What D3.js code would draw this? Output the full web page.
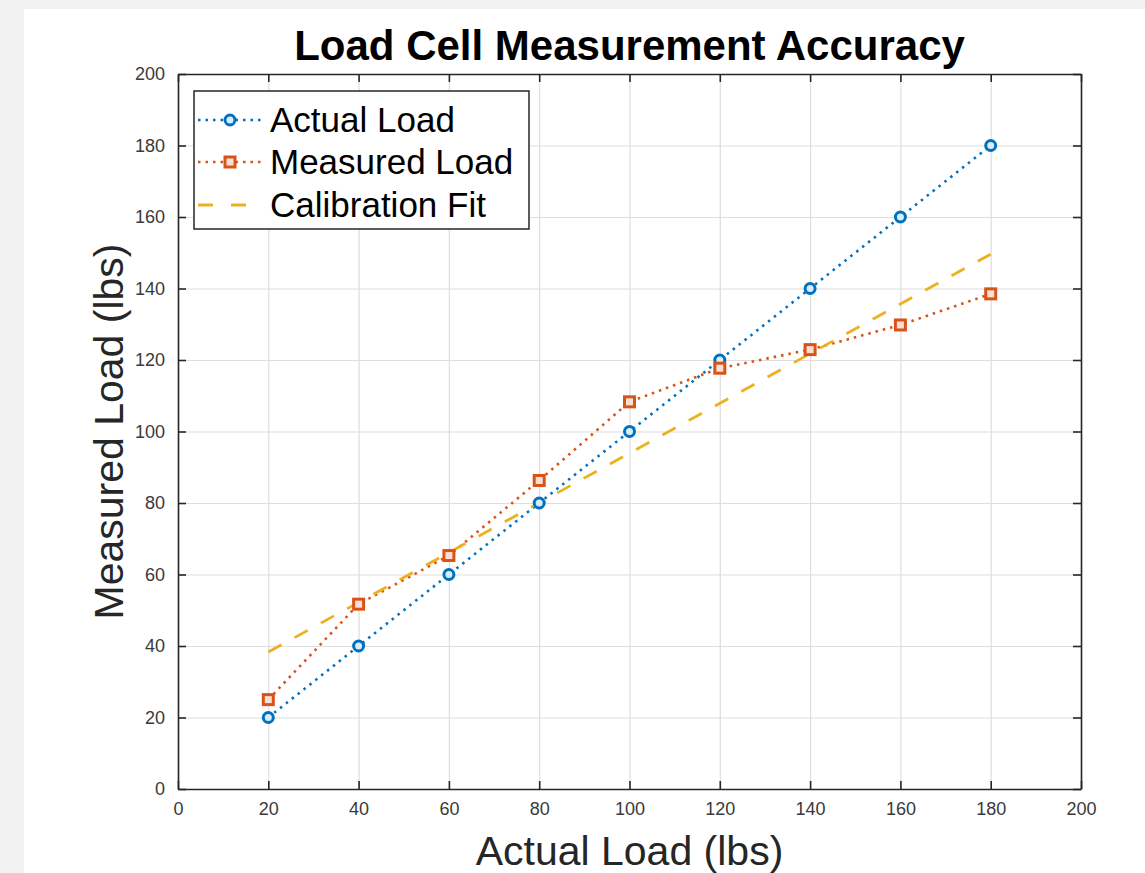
<!DOCTYPE html>
<html>
<head>
<meta charset="utf-8">
<script src="https://cdn.jsdelivr.net/npm/d3@7"></script>
<style>
  html, body { margin: 0; padding: 0; background: #f2f2f2; }
  svg { display: block; }
  text { font-family: "Liberation Sans", Arial, Helvetica, sans-serif; }
</style>
</head>
<body>
<div id="chart"></div>
<script>
// data
var loads = [20, 40, 60, 80, 100, 120, 140, 160, 180];
var actualLoad = [20, 40, 60, 80, 100, 120, 140, 160, 180];
var measuredLoad = [25, 51.7, 65.3, 86.3, 108.3, 117.7, 122.9, 129.8, 138.5];
var fitLoads = [20, 180];
var fitValues = [38.3, 149.6];
var xTicks = [0, 20, 40, 60, 80, 100, 120, 140, 160, 180, 200];
var yTicks = [0, 20, 40, 60, 80, 100, 120, 140, 160, 180, 200];
var seriesNames = ['Actual Load', 'Measured Load', 'Calibration Fit'];

var width = 1145, height = 873;
var margin = {left: 178, top: 74, right: 1081, bottom: 789};

var blue = '#0072BD', orange = '#D95319', yellow = '#EDB120';

var svg = d3.select('#chart').append('svg')
  .attr('width', width).attr('height', height);

// white figure panel
svg.append('rect')
  .attr('x', 24).attr('y', 9)
  .attr('width', width - 24).attr('height', height - 9)
  .attr('fill', '#ffffff');

var x = d3.scaleLinear().domain([0, 200]).range([margin.left, margin.right]);
var y = d3.scaleLinear().domain([0, 200]).range([margin.bottom, margin.top]);
var plotW = margin.right - margin.left, plotH = margin.bottom - margin.top;

// grid
svg.append('g')
  .attr('transform', 'translate(0,' + margin.bottom + ')')
  .call(d3.axisBottom(x).tickValues(xTicks).tickSize(-plotH).tickFormat(''))
  .call(function (g) {
    g.select('.domain').remove();
    g.selectAll('line').attr('stroke', '#dedede').attr('stroke-width', 1.2);
  });
svg.append('g')
  .attr('transform', 'translate(' + margin.left + ',0)')
  .call(d3.axisLeft(y).tickValues(yTicks).tickSize(-plotW).tickFormat(''))
  .call(function (g) {
    g.select('.domain').remove();
    g.selectAll('line').attr('stroke', '#dedede').attr('stroke-width', 1.2);
  });

// axes with inward ticks
function styleAxis(g) {
  g.select('.domain').attr('stroke', '#262626').attr('stroke-width', 1.6);
  g.selectAll('.tick line').attr('stroke', '#262626').attr('stroke-width', 1.6);
  g.selectAll('.tick text').attr('fill', '#3a3a3a').attr('font-size', 18);
}
svg.append('g')
  .attr('transform', 'translate(0,' + margin.bottom + ')')
  .call(d3.axisBottom(x).tickValues(xTicks).tickSizeInner(-8).tickSizeOuter(0).tickPadding(13))
  .call(styleAxis);
svg.append('g')
  .attr('transform', 'translate(0,' + margin.top + ')')
  .call(d3.axisTop(x).tickValues(xTicks).tickSizeInner(-8).tickSizeOuter(0).tickFormat(''))
  .call(styleAxis);
svg.append('g')
  .attr('transform', 'translate(' + margin.left + ',0)')
  .call(d3.axisLeft(y).tickValues(yTicks).tickSizeInner(-8).tickSizeOuter(0).tickPadding(13))
  .call(styleAxis);
svg.append('g')
  .attr('transform', 'translate(' + margin.right + ',0)')
  .call(d3.axisRight(y).tickValues(yTicks).tickSizeInner(-8).tickSizeOuter(0).tickFormat(''))
  .call(styleAxis);

// lines
var line = d3.line().x(function (d) { return x(d[0]); }).y(function (d) { return y(d[1]); });

var fitPts = d3.zip(fitLoads, fitValues);
var actualPts = d3.zip(loads, actualLoad);
var measuredPts = d3.zip(loads, measuredLoad);

svg.append('path').datum(actualPts)
  .attr('d', line).attr('fill', 'none')
  .attr('stroke', blue).attr('stroke-width', 2.6)
  .attr('stroke-dasharray', '2.5,5');

svg.append('path').datum(measuredPts)
  .attr('d', line).attr('fill', 'none')
  .attr('stroke', orange).attr('stroke-width', 2.6)
  .attr('stroke-dasharray', '2.5,5');

svg.append('path').datum(fitPts)
  .attr('d', line).attr('fill', 'none')
  .attr('stroke', yellow).attr('stroke-width', 2.8)
  .attr('stroke-dasharray', '15,15');

// markers
svg.selectAll('.mk-actual').data(actualPts).enter()
  .append('circle').attr('class', 'mk-actual')
  .attr('cx', function (d) { return x(d[0]); })
  .attr('cy', function (d) { return y(d[1]); })
  .attr('r', 5)
  .attr('fill', '#d9ecf8').attr('stroke', blue).attr('stroke-width', 3);

svg.selectAll('.mk-measured').data(measuredPts).enter()
  .append('rect').attr('class', 'mk-measured')
  .attr('x', function (d) { return x(d[0]) - 5; })
  .attr('y', function (d) { return y(d[1]) - 5; })
  .attr('width', 10).attr('height', 10)
  .attr('fill', '#f8e0d4').attr('stroke', orange).attr('stroke-width', 3);

// title and labels
svg.append('text')
  .attr('x', (margin.left + margin.right) / 2).attr('y', 60)
  .attr('text-anchor', 'middle')
  .attr('font-size', 42).attr('font-weight', 'bold').attr('fill', '#000')
  .text('Load Cell Measurement Accuracy');

svg.append('text')
  .attr('x', (margin.left + margin.right) / 2).attr('y', 865)
  .attr('text-anchor', 'middle')
  .attr('font-size', 41).attr('fill', '#262626')
  .text('Actual Load (lbs)');

svg.append('text')
  .attr('transform', 'translate(123,' + (margin.top + margin.bottom) / 2 + ') rotate(-90)')
  .attr('text-anchor', 'middle')
  .attr('font-size', 41).attr('fill', '#262626')
  .text('Measured Load (lbs)');

// legend
var legend = svg.append('g').attr('transform', 'translate(194,91)');
legend.append('rect')
  .attr('width', 335).attr('height', 138)
  .attr('fill', '#ffffff').attr('stroke', '#262626').attr('stroke-width', 1.5);

var rowY = [29, 71, 114];
var rows = legend.selectAll('.row').data(seriesNames).enter()
  .append('g').attr('class', 'row')
  .attr('transform', function (d, i) { return 'translate(0,' + rowY[i] + ')'; });

rows.append('line')
  .attr('x1', 4).attr('x2', 68).attr('y1', 0).attr('y2', 0)
  .attr('stroke', function (d, i) { return [blue, orange, yellow][i]; })
  .attr('stroke-width', function (d, i) { return i === 2 ? 2.8 : 2.6; })
  .attr('stroke-dasharray', function (d, i) { return i === 2 ? '15,18' : '2.5,5'; });

rows.filter(function (d, i) { return i === 0; }).append('circle')
  .attr('cx', 36).attr('cy', 0).attr('r', 5)
  .attr('fill', '#d9ecf8').attr('stroke', blue).attr('stroke-width', 3);
rows.filter(function (d, i) { return i === 1; }).append('rect')
  .attr('x', 31).attr('y', -5).attr('width', 10).attr('height', 10)
  .attr('fill', '#f8e0d4').attr('stroke', orange).attr('stroke-width', 3);

rows.append('text')
  .attr('x', 76).attr('y', 12)
  .attr('font-size', 35).attr('fill', '#000')
  .text(function (d) { return d; });
</script>
</body>
</html>
